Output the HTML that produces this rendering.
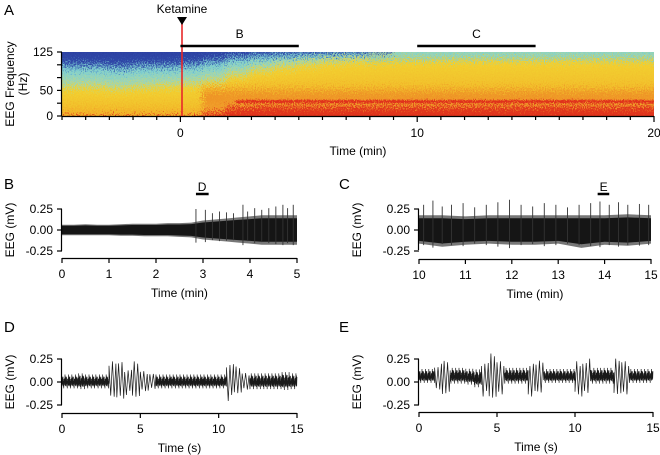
<!DOCTYPE html>
<html><head><meta charset="utf-8"><style>
body{margin:0;background:#fff}
svg{display:block;font-family:"Liberation Sans",Arial,sans-serif}
</style></head><body>
<svg id="fig" width="660" height="455" viewBox="0 0 660 455">
<defs>
<filter id="speck" x="-2%" y="-10%" width="104%" height="120%">
<feTurbulence type="fractalNoise" baseFrequency="0.9 0.7" numOctaves="2" seed="7" result="n"/>
<feDisplacementMap in="SourceGraphic" in2="n" scale="26" xChannelSelector="R" yChannelSelector="G"/>
</filter>
<filter id="speck2" x="-2%" y="-50%" width="104%" height="200%">
<feTurbulence type="fractalNoise" baseFrequency="0.9 0.9" numOctaves="1" seed="2" result="n"/>
<feDisplacementMap in="SourceGraphic" in2="n" scale="7" xChannelSelector="R" yChannelSelector="G"/>
</filter>
<clipPath id="specClip"><rect x="62" y="52" width="592" height="64"/></clipPath>
</defs>
<g clip-path="url(#specClip)"><rect x="62" y="52" width="592" height="64" fill="#f0c030"/><g id="specG" filter="url(#speck)"></g><g id="specL" filter="url(#speck2)"></g></g>
<g id="axes"></g>
</svg>
<script>
// Spectrogram column data (time in min, boundaries in Hz)
const specTimes=[-6,-5,-4,-3,-2,-1,0,1,2,3,4,5,6,7,8,9,10,11,12,13,14,15,16,17,18,19,20];
const blueHz=[98,98,98,95,98,98,100,106,114,118,120,122,123,124,124,125,125,125,125,125,125,125,125,125,125,125,125];
const yellowHz=[55,55,55,52,55,57,60,66,78,88,95,100,104,106,108,110,110,110,110,110,110,110,110,110,110,110,110];
const redHz=[0,0,0,0,0,0,0,2,13,15,15,15,15,15,15,15,15,15,15,15,15,15,15,15,15,15,15];
const lineOn=[0,0,0,0,0,0,0,0,1,1,1,1,1,1,1,1,1,1,1,1,1,1,1,1,1,1,1];
const specXTicks=[0,10,20];
const specYTicks=[0,50,125];
// Panel B (0-5 min) envelope
const bT=[0,0.25,0.5,0.75,1,1.25,1.5,1.75,2,2.25,2.5,2.75,3,3.25,3.5,3.75,4,4.25,4.5,4.75,5];
const bUp=[0.05,0.05,0.055,0.05,0.05,0.055,0.06,0.06,0.06,0.065,0.065,0.07,0.09,0.1,0.11,0.12,0.13,0.14,0.14,0.14,0.14];
const bLo=[-0.05,-0.05,-0.05,-0.05,-0.05,-0.055,-0.055,-0.06,-0.06,-0.06,-0.065,-0.07,-0.09,-0.1,-0.11,-0.12,-0.13,-0.14,-0.14,-0.14,-0.14];
const bSpkT=[2.85,3.05,3.2,3.35,3.5,3.65,3.85,3.95,4.1,4.25,4.4,4.55,4.7,4.8,4.92];
const bSpkV=[0.25,0.24,0.2,0.22,0.21,0.2,0.3,0.22,0.26,0.24,0.26,0.28,0.3,0.26,0.3];
// Panel C (10-15 min)
const cT=[10,10.5,11,11.5,12,12.5,13,13.5,14,14.5,15];
const cUp=[0.14,0.14,0.13,0.14,0.14,0.14,0.14,0.14,0.14,0.15,0.14];
const cLo=[-0.13,-0.16,-0.14,-0.13,-0.14,-0.14,-0.13,-0.17,-0.14,-0.15,-0.13];
const cSpkT=[10.1,10.3,10.5,10.7,10.95,11.2,11.45,11.7,11.95,12.2,12.45,12.7,12.95,13.2,13.45,13.7,13.9,14.1,14.3,14.5,14.75,14.95];
const cSpkV=[0.3,0.35,0.28,0.3,0.32,0.27,0.3,0.33,0.36,0.3,0.28,0.32,0.3,0.27,0.3,0.32,0.34,0.3,0.33,0.3,0.31,0.3];
// Panel D/E (0-15 s, 0.5 s segments)
const dAmp=[0.07,0.07,0.08,0.07,0.07,0.07,0.2,0.22,0.15,0.2,0.12,0.1,0.07,0.07,0.07,0.07,0.07,0.07,0.07,0.07,0.07,0.22,0.15,0.1,0.08,0.08,0.08,0.08,0.09,0.08];
const dBurst=[0,0,0,0,0,0,1,1,1,1,1,1,0,0,0,0,0,0,0,0,0,1,1,1,0,0,0,0,0,0];
const dOff=[-0.01,-0.01,-0.01,-0.01,-0.01,-0.01,0,0,0,0,0,0,-0.01,-0.01,-0.01,-0.01,-0.01,-0.01,-0.01,-0.01,-0.01,0,0,0,-0.01,-0.01,-0.01,-0.01,-0.01,-0.01];
const eAmp=[0.07,0.07,0.15,0.2,0.08,0.08,0.08,0.09,0.2,0.25,0.2,0.08,0.08,0.08,0.2,0.18,0.07,0.07,0.07,0.07,0.2,0.2,0.08,0.08,0.08,0.2,0.2,0.07,0.07,0.07];
const eBurst=[0,0,1,1,0,0,0,0,1,1,1,0,0,0,1,1,0,0,0,0,1,1,0,0,0,1,1,0,0,0];
const eOff=[0.05,0.05,0.03,0.03,0.05,0.05,0.04,0.02,0.03,0.03,0.03,0.05,0.05,0.05,0.03,0.03,0.05,0.05,0.05,0.05,0.03,0.03,0.05,0.05,0.05,0.03,0.03,0.05,0.05,0.05];

const NS='http://www.w3.org/2000/svg';
function mk(tag,attrs,parent,txt){const e=document.createElementNS(NS,tag);for(const k in attrs)e.setAttribute(k,attrs[k]);if(txt!==undefined)e.textContent=txt;parent.appendChild(e);return e;}
const ax=document.getElementById('axes');
const spec=document.getElementById('specG');
const specL=document.getElementById('specL');
const defs=document.querySelector('defs');

// spectrogram
const sx=t=>62+(t+5)*(592/25);
const sy=f=>116-f/125*64;
specTimes.forEach((t,i)=>{
  const g=mk('linearGradient',{id:'cg'+i,gradientUnits:'userSpaceOnUse',x1:0,y1:40,x2:0,y2:128},defs);
  const stops=[];
  const add=(f,c)=>stops.push([Math.max(0,Math.min(1,(sy(f)-40)/88)),c]);
  add(145,blueHz[i]<125?'#2a3c9e':'#6fcfd6');
  add(blueHz[i]+8,blueHz[i]<125?'#3048a8':'#78d0d2');
  add(blueHz[i]-8,'#7ccfd4');
  add(yellowHz[i]+10,'#a8d6a8');
  add(yellowHz[i]-5,'#f2d030');
  add(redHz[i]>0?60:20,'#f2c02c');
  add(redHz[i]>0?40:4,redHz[i]>0?'#ee9226':'#f2b02a');
  add(redHz[i]>0?redHz[i]+10:-2,'#f0a02a');
  add(redHz[i]>0?redHz[i]:-4,'#e23a1e');
  add(-20,'#dc2a1a');
  stops.sort((a,b)=>a[0]-b[0]).forEach(s=>mk('stop',{offset:s[0],'stop-color':s[1]},g));
  const r=mk('rect',{x:sx(t)-2,y:30,width:sx(t+1)-sx(t)+4,height:100,fill:'url(#cg'+i+')'},spec);
  
  
});
specTimes.forEach((t,i)=>{
  if(lineOn[i]){
    const off=(i===8?8:0);
    const l=mk('rect',{x:sx(t)+off,y:sy(31),width:sx(t+1)-sx(t)+0.5-off,height:3,fill:'#e0321e'},specL);
    
    
  }
});

function line(x1,y1,x2,y2,p,c,w){return mk('line',{x1,y1,x2,y2,stroke:c||'#000','stroke-width':w||1.2},p||ax);}
function text(x,y,s,anchor,size,p){const t=mk('text',{x,y,'text-anchor':anchor||'middle','font-size':size||12},p||ax,s);return t;}

// spectrogram axes
const sAx=mk('g',{},ax);
line(62,116.5,654,116.5,sAx);
for(let t=-5;t<=20;t++)line(sx(t),116,sx(t),specXTicks.includes(t)?122:120,sAx);
specXTicks.forEach(t=>text(sx(t),137,String(t),'middle',12,sAx));
text(358,155,'Time (min)','middle',12,sAx);
line(61.5,52,61.5,116,sAx);
for(let f=0;f<=125;f+=25)line(57,sy(f),62,sy(f),sAx);
specYTicks.forEach(f=>text(53,sy(f)+4,String(f),'end',12,sAx));
const yl=mk('g',{transform:'translate(14,84) rotate(-90)'},sAx);
text(0,0,'EEG Frequency','middle',12,yl);text(0,13,'(Hz)','middle',12,yl);
// ketamine marker
line(182,22,182,116,ax,'#e8282a',1.6);
mk('polygon',{points:'177,17 187,17 182,25',fill:'#000'},ax);
text(182,13,'Ketamine','middle',12);
line(sx(0),46,sx(5),46,ax,'#000',2.5);
text(sx(2.5),38,'B','middle',12);
line(sx(10),46,sx(15),46,ax,'#000',2.5);
text(sx(12.5),38,'C','middle',12);

// panel labels
[['A',4,15],['B',4,189],['C',339,189],['D',4,332],['E',339,332]].forEach(a=>{const t=text(a[1],a[2],a[0],'start',15);});

function tracePanel(o){
  const g=mk('g',{},ax);
  
  
  const X=v=>o.x0+(v-o.t0)/(o.t1-o.t0)*(o.x1-o.x0);
  const Y=v=>o.y0-v/0.25*(o.y0-o.yt);
  o.draw(g,X,Y);
  line(o.x0-0.5,o.yt,o.x0-0.5,o.yb,g);
  [0.25,0,-0.25].forEach(v=>{line(o.x0-5,Y(v),o.x0,Y(v),g);text(o.x0-9,Y(v)+4,v.toFixed(2),'end',12,g);});
  line(o.x0,o.xa+0.5,o.x1,o.xa+0.5,g);
  o.xt.forEach(v=>{line(X(v),o.xa,X(v),o.xa+5,g);text(X(v),o.xa+20,String(v),'middle',12,g);});
  text((o.x0+o.x1)/2,o.xa+39,o.xtitle,'middle',12,g);
  const yl=mk('g',{transform:`translate(${o.ylx},${o.y0}) rotate(-90)`},g);
  text(0,0,'EEG (mV)','middle',12,yl);
  return {X,Y,g};
}
const pat=[1,0.4,0.8,0.2,0.95,0.55,0.3,0.85,0.6,0.1,0.7,0.35,1.3,0.5];
function envDraw(T,U,L,ST,SV){return (g,X,Y)=>{
  let p=T.map((t,i)=>X(t)+','+Y(U[i]*1.25)).concat(T.map((t,i)=>X(t)+','+Y(L[i]*1.25)).reverse());
  mk('polygon',{points:p.join(' '),fill:'#777'},g);
  p=T.map((t,i)=>X(t)+','+Y(U[i])).concat(T.map((t,i)=>X(t)+','+Y(L[i])).reverse());
  mk('polygon',{points:p.join(' '),fill:'#151515'},g);
  ST.forEach((t,i)=>{const l=line(X(t),Y(SV[i]),X(t),Y(-SV[i]*0.6),g,'#333',0.9);});
};}
const pB=tracePanel({name:'panel-b',x0:62,x1:297,t0:0,t1:5,y0:230,yt:209,yb:251,xa:258,xt:[0,1,2,3,4,5],xtitle:'Time (min)',ylx:14,draw:envDraw(bT,bUp,bLo,bSpkT,bSpkV)});
line(pB.X(2.85),194,pB.X(3.12),194,pB.g,'#000',2.5);
text(pB.X(2.98),191,'D','middle',12,pB.g);
const pC=tracePanel({name:'panel-c',x0:419,x1:651,t0:10,t1:15,y0:230,yt:209,yb:250,xa:259,xt:[10,11,12,13,14,15],xtitle:'Time (min)',ylx:361,draw:envDraw(cT,cUp,cLo,cSpkT,cSpkV)});
line(pC.X(13.85),194,pC.X(14.1),194,pC.g,'#000',2.5);
text(pC.X(13.98),191,'E','middle',12,pC.g);

function wiggle(A,B,O){return (g,X,Y)=>{
  let pts=[];let k=0;
  A.forEach((a,i)=>{
    const t0=i*0.5;
    const step=B[i]?0.11:0.016;
    for(let t=t0;t<t0+0.5-1e-9;t+=step){const s=(k%2?-1:1)*a*(B[i]?(0.6+0.4*pat[k%14]):pat[k%14]);pts.push(X(t)+','+Y(O[i]+s));k++;}
  });
  const pl=mk('polyline',{points:pts.join(' '),fill:'none',stroke:'#1a1a1a','stroke-width':0.7},g);
  
};}
tracePanel({name:'panel-d',x0:62,x1:297,t0:0,t1:15,y0:382,yt:359,yb:405,xa:413,xt:[0,5,10,15],xtitle:'Time (s)',ylx:14,draw:wiggle(dAmp,dBurst,dOff)});
tracePanel({name:'panel-e',x0:419,x1:653,t0:0,t1:15,y0:382,yt:359,yb:405,xa:412,xt:[0,5,10,15],xtitle:'Time (s)',ylx:361,draw:wiggle(eAmp,eBurst,eOff)});
</script>
</body></html>
